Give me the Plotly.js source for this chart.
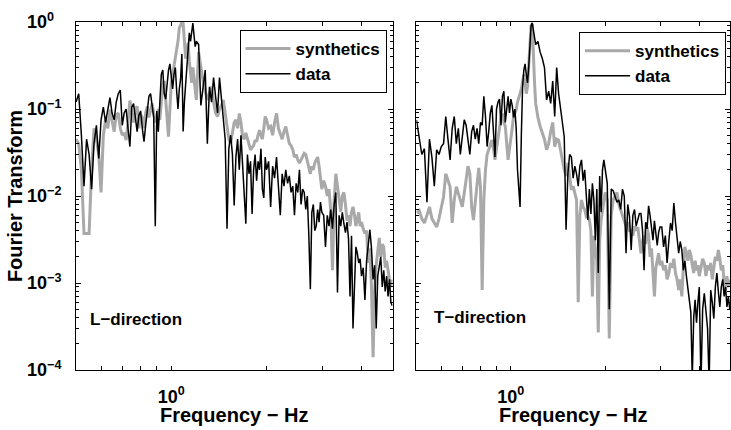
<!DOCTYPE html>
<html><head><meta charset="utf-8">
<script src="https://cdn.plot.ly/plotly-3.0.1.min.js"></script>
<style>html,body{margin:0;padding:0;background:#fff;}#chart{width:731px;height:430px;}</style>
</head><body><div id="chart"></div>
<script>
// Frequency (Hz)
const freq = [
0.50,0.51,0.52,0.53,0.54,0.55,0.56,0.57,0.58,0.59,
0.60,0.61,0.62,0.63,0.64,0.65,0.66,0.67,0.68,0.69,
0.70,0.71,0.72,0.73,0.74,0.75,0.76,0.77,0.78,0.79,
0.80,0.81,0.82,0.83,0.84,0.85,0.86,0.87,0.88,0.89,
0.90,0.91,0.92,0.93,0.94,0.95,0.96,0.97,0.98,0.99,
1.00,1.01,1.02,1.03,1.04,1.05,1.06,1.07,1.08,1.09,
1.10,1.11,1.12,1.13,1.14,1.15,1.16,1.17,1.18,1.19,
1.20,1.22,1.24,1.26,1.28,1.30,1.32,1.34,1.36,1.38,
1.40,1.42,1.44,1.46,1.48,1.50,1.52,1.54,1.56,1.58,
1.60,1.62,1.64,1.66,1.68,1.70,1.72,1.74,1.76,1.78,
1.80,1.82,1.84,1.86,1.88,1.90,1.92,1.94,1.96,1.98,
2.00,2.03,2.06,2.09,2.12,2.15,2.18,2.21,2.24,2.27,
2.30,2.33,2.36,2.39,2.42,2.45,2.48,2.51,2.54,2.57,
2.60,2.63,2.66,2.69,2.72,2.75,2.78,2.81,2.84,2.87,
2.90,2.93,2.96,2.99,3.03,3.07,3.11,3.15,3.19,3.23,
3.27,3.31,3.35,3.39,3.43,3.47,3.51,3.55,3.59,3.63,
3.67,3.71,3.75,3.79,3.83,3.87,3.91,3.95,3.99,
4.04,4.09,4.14,4.19,4.24,4.29,4.34,4.39,4.44,4.49,
4.54,4.59,4.64,4.69,4.74,4.79,4.84,4.89,4.94,4.99];

// L-direction
const synthL = [
0.045,0.04,0.02,0.0037,0.0037,0.0037,0.02,0.06,0.045,0.03,
0.011,0.05,0.075,0.06,0.098,0.07,0.055,0.085,0.09,0.06,
0.05,0.053,0.044,0.07,0.125,0.09,0.07,0.1,0.107,0.06,
0.085,0.08,0.06,0.09,0.107,0.08,0.1,0.116,0.09,0.07,
0.082,0.1,0.075,0.12,0.19,0.21,0.12,0.08,0.048,0.1,
0.2,0.25,0.31,0.4,0.47,0.6,0.85,0.92,1.0,0.97,
0.6,0.38,0.45,0.58,0.35,0.25,0.2,0.3,0.22,0.15,
0.127,0.45,0.3,0.21,0.16,0.127,0.15,0.18,0.12,0.09,
0.082,0.1,0.11,0.127,0.09,0.063,0.045,0.04,0.055,0.07,
0.075,0.06,0.089,0.07,0.048,0.045,0.053,0.045,0.04,0.034,
0.036,0.038,0.044,0.042,0.05,0.057,0.05,0.045,0.06,0.082,
0.075,0.06,0.063,0.05,0.07,0.089,0.06,0.053,0.045,0.055,
0.063,0.05,0.04,0.038,0.034,0.028,0.03,0.026,0.024,0.026,
0.028,0.031,0.03,0.025,0.02,0.018,0.022,0.02,0.024,0.026,
0.028,0.022,0.016,0.012,0.015,0.013,0.01,0.012,0.0067,0.0014,
0.009,0.018,0.013,0.0095,0.0066,0.01,0.011,0.008,0.0052,0.006,
0.0045,0.0065,0.0075,0.006,0.0045,0.0055,0.0065,0.0045,0.005,
0.0042,0.0037,0.004,0.0017,0.0025,0.0009,0.00014,0.0008,0.0016,0.0025,
0.0033,0.002,0.0028,0.0026,0.0015,0.0018,0.0013,0.0011,0.0009,0.0011];

const dataL = [
0.12,0.15,0.05,0.013,0.045,0.03,0.012,0.04,0.065,0.027,
0.075,0.105,0.07,0.098,0.135,0.09,0.075,0.12,0.15,0.165,
0.065,0.09,0.1,0.06,0.037,0.105,0.115,0.08,0.055,0.085,
0.095,0.06,0.042,0.065,0.1,0.14,0.15,0.11,0.08,0.0045,
0.095,0.055,0.12,0.25,0.28,0.15,0.13,0.2,0.28,0.33,
0.22,0.17,0.25,0.3,0.16,0.1,0.17,0.22,0.43,0.055,
0.12,0.2,0.3,0.55,0.75,0.6,0.85,0.97,0.7,0.52,
0.6,0.55,0.11,0.18,0.28,0.04,0.18,0.12,0.23,0.14,
0.09,0.23,0.13,0.07,0.045,0.0042,0.035,0.05,0.03,0.0078,
0.028,0.045,0.02,0.05,0.025,0.012,0.0048,0.03,0.018,0.025,
0.0062,0.02,0.03,0.015,0.025,0.02,0.035,0.012,0.0095,0.028,
0.02,0.025,0.0075,0.022,0.016,0.028,0.012,0.006,0.018,0.013,
0.02,0.014,0.017,0.011,0.013,0.006,0.014,0.011,0.02,0.008,
0.012,0.011,0.007,0.01,0.0035,0.00085,0.0065,0.008,0.004,0.0045,
0.007,0.005,0.0085,0.0065,0.006,0.0026,0.006,0.0045,0.007,0.0042,
0.008,0.011,0.00078,0.006,0.0045,0.0065,0.0048,0.0038,0.005,0.0032,
0.0007,0.0035,0.0003,0.0012,0.0026,0.0022,0.0017,0.0019,0.0012,
0.0015,0.00064,0.0018,0.003,0.0041,0.0025,0.0011,0.0016,0.0003,0.0012,
0.0016,0.002,0.0009,0.0014,0.0008,0.0012,0.0007,0.0011,0.0006,0.00055];

// T-direction
const synthR = [
0.0064,0.0068,0.0055,0.0049,0.006,0.0075,0.0055,0.0049,0.0044,0.0055,
0.0075,0.0098,0.018,0.015,0.0128,0.0049,0.009,0.0128,0.011,0.009,
0.0075,0.011,0.015,0.022,0.018,0.0075,0.0053,0.009,0.015,0.021,
0.0128,0.00083,0.009,0.02,0.03,0.034,0.04,0.044,0.035,0.026,
0.035,0.044,0.06,0.08,0.089,0.07,0.063,0.04,0.026,0.035,
0.044,0.06,0.082,0.09,0.098,0.12,0.14,0.15,0.17,0.2,
0.25,0.2,0.15,0.18,0.3,0.45,0.9,0.95,0.35,0.2,
0.116,0.08,0.063,0.053,0.045,0.034,0.04,0.055,0.07,0.037,
0.045,0.044,0.035,0.026,0.02,0.017,0.024,0.016,0.0118,0.013,
0.011,0.009,0.0006,0.006,0.009,0.0075,0.007,0.0058,0.006,0.0053,
0.004,0.0007,0.0035,0.0026,0.0018,0.00027,0.003,0.0053,0.007,0.009,
0.011,0.009,0.00023,0.006,0.009,0.01,0.011,0.008,0.007,0.006,
0.0053,0.0045,0.005,0.004,0.004,0.0035,0.0045,0.004,0.0044,0.003,
0.0022,0.003,0.0035,0.0028,0.0044,0.0035,0.002,0.0025,0.0012,0.0007,
0.0015,0.0019,0.0022,0.0016,0.0018,0.0014,0.0016,0.0011,0.0013,0.0017,
0.0015,0.0019,0.0013,0.0011,0.00083,0.0011,0.0007,0.0015,0.0026,0.0022,
0.0018,0.0024,0.0021,0.0016,0.0013,0.0018,0.0014,0.0016,0.0012,
0.0015,0.0019,0.0017,0.0012,0.0016,0.0014,0.0017,0.0011,0.0015,0.002,
0.0018,0.0024,0.0019,0.0014,0.0016,0.001,0.00083,0.0012,0.0009,0.0011];

const dataR = [
0.075,0.045,0.03,0.035,0.0085,0.045,0.028,0.013,0.034,0.03,
0.037,0.04,0.082,0.045,0.026,0.06,0.082,0.04,0.06,0.03,
0.05,0.075,0.065,0.042,0.03,0.055,0.065,0.045,0.06,0.04,
0.07,0.065,0.14,0.082,0.037,0.055,0.09,0.11,0.05,0.028,
0.1,0.12,0.13,0.065,0.14,0.16,0.07,0.11,0.14,0.09,
0.13,0.11,0.08,0.1,0.06,0.02,0.012,0.0075,0.05,0.18,
0.28,0.33,0.25,0.2,0.3,0.6,0.9,0.98,0.8,0.7,
0.55,0.6,0.45,0.38,0.3,0.127,0.16,0.116,0.21,0.082,
0.3,0.15,0.107,0.07,0.048,0.0041,0.018,0.03,0.028,0.016,
0.022,0.018,0.013,0.022,0.026,0.015,0.02,0.011,0.0053,0.012,
0.0062,0.014,0.009,0.0031,0.012,0.0013,0.017,0.0065,0.02,0.026,
0.02,0.014,0.0005,0.012,0.0115,0.01,0.0085,0.009,0.007,0.012,
0.01,0.0022,0.008,0.0058,0.0024,0.006,0.007,0.0045,0.0053,0.0063,
0.0063,0.004,0.0014,0.005,0.0042,0.0077,0.006,0.0045,0.0031,0.0052,
0.004,0.0027,0.0038,0.0044,0.0044,0.0026,0.0035,0.0017,0.003,0.0049,
0.004,0.0083,0.005,0.0031,0.0022,0.003,0.0024,0.0014,0.0018,0.0012,
0.0009,0.0006,0.00046,0.00008,0.0004,0.00064,0.00035,0.0006,0.0009,
0.00007,0.0005,0.00076,0.00046,0.0003,0.00007,0.00083,0.0006,0.00039,0.0009,
0.0013,0.0008,0.00053,0.0009,0.0011,0.0007,0.0009,0.00053,0.0007,0.0005];

const seriesNames = ['synthetics', 'data'];
const panelLabels = ['L\u2212direction', 'T\u2212direction'];
const xTitle = 'Frequency \u2212 Hz';
const yTitle = 'Fourier Transform';
const xTickVals = [1];
const xTickText = ['10<sup>0</sup>'];
const xMinorVals = [0.6, 0.7, 0.8, 0.9, 2, 3, 4];
const yTickVals = [1, 0.1, 0.01, 0.001, 0.0001];
const yTickText = ['10<sup>0<span style="color:rgba(0,0,0,0)">\u2212</span></sup>',
                   '10<sup>\u22121</sup>', '10<sup>\u22122</sup>', '10<sup>\u22123</sup>', '10<sup>\u22124</sup>'];

const FONT = 'Liberation Sans, Arial, Helvetica, sans-serif';
const yMinorVals = [];
for (let d = -4; d < 0; d++) for (let k = 2; k <= 9; k++) yMinorVals.push(k * Math.pow(10, d));

const grayLine = {color: '#a9a9a9', width: 3};
const blackLine = {color: '#000000', width: 1.5};

const traces = [
  {x: freq, y: synthL, xaxis: 'x', yaxis: 'y', name: seriesNames[0], mode: 'lines', line: grayLine, legend: 'legend'},
  {x: freq, y: dataL, xaxis: 'x', yaxis: 'y', name: seriesNames[1], mode: 'lines', line: blackLine, legend: 'legend'},
  {x: freq, y: synthR, xaxis: 'x2', yaxis: 'y2', name: seriesNames[0], mode: 'lines', line: grayLine, legend: 'legend2'},
  {x: freq, y: dataR, xaxis: 'x2', yaxis: 'y2', name: seriesNames[1], mode: 'lines', line: blackLine, legend: 'legend2'}
];

function xAxis(domain, anchor) {
  return {
    domain: domain, anchor: anchor, type: 'log', range: [Math.log10(0.5), Math.log10(5)],
    showline: true, mirror: 'ticks', linecolor: '#000', linewidth: 1,
    ticks: 'inside', ticklen: 4, tickcolor: '#000', tickwidth: 1,
    tickmode: 'array', tickvals: xTickVals, ticktext: xTickText,
    minor: {tickmode: 'array', tickvals: xMinorVals, ticks: 'inside', ticklen: 4, tickcolor: '#000'},
    showgrid: false, zeroline: false, ticklabelstandoff: 10,
    tickfont: {family: FONT, size: 18, weight: 'bold', color: '#000'}
  };
}
function yAxis(anchor, labels) {
  return {
    anchor: anchor, domain: [0, 1], type: 'log', range: [-4, 0],
    showline: true, mirror: 'ticks', linecolor: '#000', linewidth: 1,
    ticks: 'inside', ticklen: 5, tickcolor: '#000', tickwidth: 1,
    tickmode: 'array', tickvals: yTickVals, ticktext: yTickText,
    minor: {tickmode: 'array', tickvals: yMinorVals, ticks: 'inside', ticklen: 3, tickcolor: '#000'},
    showgrid: false, zeroline: false, showticklabels: labels, ticklabelstandoff: 10,
    tickfont: {family: FONT, size: 18, weight: 'bold', color: '#000'}
  };
}

const legendStyle = {
  bgcolor: '#fff', bordercolor: '#000', borderwidth: 1, itemwidth: 45,
  font: {family: FONT, size: 17, weight: 'bold', color: '#000'},
  xanchor: 'right', yanchor: 'top', tracegroupgap: 0
};

const titleFont = {family: FONT, size: 20, weight: 'bold', color: '#000'};
const labelFont = {family: FONT, size: 17, weight: 'bold', color: '#000'};

const layout = {
  width: 731, height: 430,
  margin: {l: 76, r: 1, t: 22, b: 60},
  paper_bgcolor: '#fff', plot_bgcolor: '#fff',
  font: {family: FONT, color: '#000'},
  xaxis: xAxis([0, 0.484], 'y'),
  yaxis: yAxis('x', true),
  xaxis2: xAxis([0.5206, 1], 'y2'),
  yaxis2: yAxis('x2', false),
  legend: Object.assign({x: 0.4748, y: 0.977}, legendStyle),
  legend2: Object.assign({x: 0.9939, y: 0.971}, legendStyle),
  annotations: [
    {xref: 'x domain', yref: 'y domain', x: 0.038, y: 0.144, xanchor: 'left', yanchor: 'middle',
     text: panelLabels[0], showarrow: false, font: labelFont},
    {xref: 'x2 domain', yref: 'y2 domain', x: 0.048, y: 0.152, xanchor: 'left', yanchor: 'middle',
     text: panelLabels[1], showarrow: false, font: labelFont},
    {xref: 'x domain', yref: 'paper', x: 0.5, y: -0.13, xanchor: 'center', yanchor: 'middle',
     text: xTitle, showarrow: false, font: titleFont},
    {xref: 'x2 domain', yref: 'paper', x: 0.5, y: -0.13, xanchor: 'center', yanchor: 'middle',
     text: xTitle, showarrow: false, font: titleFont},
    {xref: 'paper', yref: 'paper', x: -0.0931, y: 0.5, xanchor: 'center', yanchor: 'middle',
     textangle: -90, text: yTitle, showarrow: false, font: titleFont}
  ],
  showlegend: true
};

Plotly.newPlot('chart', traces, layout, {displayModeBar: false, staticPlot: true});
</script>
</body></html>
